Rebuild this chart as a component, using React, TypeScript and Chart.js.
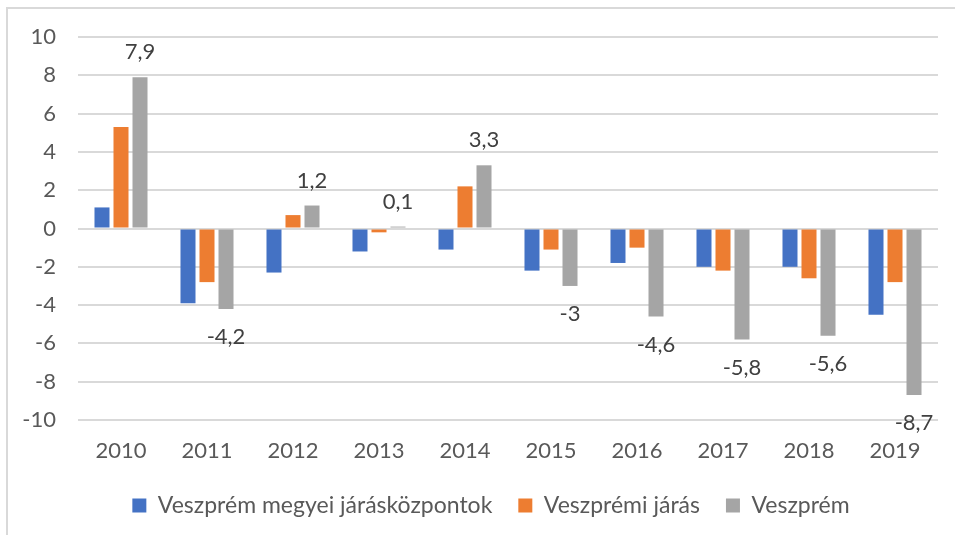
import React, { useEffect, useRef } from "react";
import { Chart, registerables } from "chart.js";

Chart.register(...registerables);

const years = ["2010", "2011", "2012", "2013", "2014", "2015", "2016", "2017", "2018", "2019"];
const megyeiJaraskozpontok = [1.1, -3.9, -2.3, -1.2, -1.1, -2.2, -1.8, -2.0, -2.0, -4.5];
const veszpremiJaras = [5.3, -2.8, 0.7, -0.2, 2.2, -1.1, -1.0, -2.2, -2.6, -2.8];
const veszprem = [7.9, -4.2, 1.2, 0.1, 3.3, -3.0, -4.6, -5.8, -5.6, -8.7];
const seriesNames = ["Veszprém megyei járásközpontok", "Veszprémi járás", "Veszprém"];
const seriesColors = ["#4472C4", "#ED7D31", "#A5A5A5"];

const FONT = "Lato, 'Open Sans', sans-serif";

const labelPlugin = {
  id: "grayLabels",
  afterDatasetsDraw(chart: any) {
    const ctx = chart.ctx;
    const meta = chart.getDatasetMeta(2);
    const data = chart.data.datasets[2].data as number[];
    ctx.save();
    ctx.font = `22px ${FONT}`;
    ctx.fillStyle = "#404040";
    ctx.textAlign = "center";
    ctx.textBaseline = "middle";
    meta.data.forEach((el: any, i: number) => {
      const v = data[i];
      const txt = String(v).replace(".", ",");
      const y = v >= 0 ? el.y - 25 : el.y + 28;
      ctx.fillText(txt, el.x, y);
    });
    ctx.restore();
  },
};

// center the legend under the area spanning x = 44 .. chartArea.right
const legendShift = {
  id: "legendShift",
  afterLayout(chart: any) {
    const lg = chart.legend;
    if (!lg) return;
    lg.left = 44;
    lg.right = chart.chartArea.right;
    lg.width = lg.right - lg.left;
  },
};

export default function App() {
  const ref = useRef<HTMLCanvasElement | null>(null);
  useEffect(() => {
    if (!ref.current) return;
    const chart = new Chart(ref.current, {
      type: "bar",
      data: {
        labels: years,
        datasets: [megyeiJaraskozpontok, veszpremiJaras, veszprem].map((d, i) => ({
          label: seriesNames[i],
          data: d,
          backgroundColor: seriesColors[i],
          categoryPercentage: 0.663,
          barPercentage: 0.79,
        })),
      },
      options: {
        animation: false,
        responsive: false,
        layout: { padding: { left: 0, right: 17, top: 37, bottom: 8 } },
        plugins: {
          tooltip: { enabled: false },
          legend: {
            position: "bottom",
            labels: {
              boxWidth: 14,
              boxHeight: 14,
              padding: 26,
              color: "#595959",
              font: { family: FONT, size: 23 },
            },
          },
        },
        scales: {
          x: {
            grid: { display: false, drawTicks: false },
            border: { display: false },
            ticks: { color: "#595959", font: { family: FONT, size: 22 }, padding: 18, maxRotation: 0 },
            afterFit(scale: any) {
              scale.height = 48;
            },
          },
          y: {
            min: -10,
            max: 10,
            ticks: { stepSize: 2, color: "#595959", font: { family: FONT, size: 22 }, padding: 22 },
            grid: { color: "#d9d9d9", lineWidth: 2, drawTicks: false },
            border: { display: false },
            afterFit(scale: any) {
              scale.width = 78;
            },
          },
        },
      },
      plugins: [labelPlugin, legendShift],
    });
    return () => chart.destroy();
  }, []);
  return (
    <div style={{ position: "absolute", left: 0, top: 0, width: 955, height: 535, background: "#fff", overflow: "hidden" }}>
      <div
        style={{
          position: "absolute",
          left: 6,
          top: 7,
          width: 1000,
          height: 600,
          borderLeft: "2px solid #d9d9d9",
          borderTop: "2px solid #d9d9d9",
        }}
      />
      <canvas ref={ref} width={955} height={535} style={{ position: "absolute", left: 0, top: 0 }} />
    </div>
  );
}
